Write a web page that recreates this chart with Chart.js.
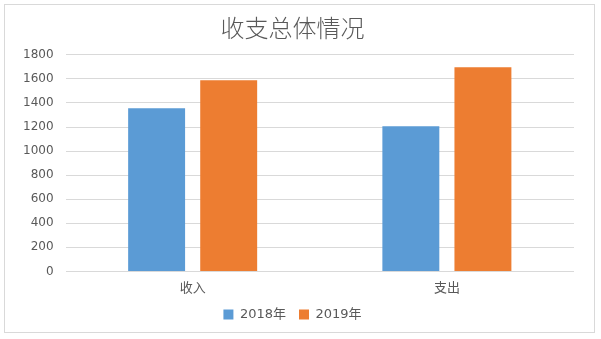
<!DOCTYPE html>
<html>
<head>
<meta charset="utf-8">
<script src="https://cdn.jsdelivr.net/npm/chart.js@4/dist/chart.umd.min.js"></script>
<style>
  html, body { margin: 0; padding: 0; background: #fff; }
  #wrap { position: absolute; left: 0; top: 0; width: 601px; height: 339px; }
</style>
</head>
<body>
<div id="wrap"><canvas id="chart" width="601" height="339"></canvas></div>
<script>
'use strict';

const categories = ['收入', '支出'];
const seriesNames = ['2018年', '2019年'];
const values2018 = [1356, 1206];
const values2019 = [1588, 1696];
const yTicks = [0, 200, 400, 600, 800, 1000, 1200, 1400, 1600, 1800];

const textColor = '#595959';
const gridColor = '#d9d9d9';

// white background plus the thin grey frame around the whole chart
const framePlugin = {
  id: 'frame',
  beforeDraw(chart) {
    const ctx = chart.ctx;
    ctx.save();
    ctx.fillStyle = '#ffffff';
    ctx.fillRect(0, 0, chart.width, chart.height);
    ctx.strokeStyle = '#d9d9d9';
    ctx.lineWidth = 1;
    ctx.strokeRect(4.5, 4.5, 590, 328);
    ctx.restore();
  },
};

const chartData = {
  labels: categories,
  datasets: [
    {
      label: seriesNames[0],
      data: values2018,
      backgroundColor: '#5b9bd5',
      barPercentage: 0.79,
      categoryPercentage: 0.567,
    },
    {
      label: seriesNames[1],
      data: values2019,
      backgroundColor: '#ed7d31',
      barPercentage: 0.79,
      categoryPercentage: 0.567,
    },
  ],
};

const options = {
  responsive: false,
  animation: false,
  layout: {
    padding: { left: 11, right: 27, top: 8, bottom: 8 },
  },
  scales: {
    y: {
      min: 0,
      max: yTicks[yTicks.length - 1],
      border: { display: false },
      grid: { color: gridColor, lineWidth: 1, drawTicks: false },
      afterBuildTicks(scale) {
        scale.ticks = yTicks.map((v) => ({ value: v }));
      },
      ticks: {
        color: textColor,
        padding: 12,
        font: { family: '"DejaVu Sans"', size: 12 },
        callback: (value) => String(value),
      },
    },
    x: {
      border: { display: false },
      grid: { display: false },
      ticks: {
        color: textColor,
        padding: 0,
        font: { family: '"Noto Sans CJK SC"', size: 13 },
      },
    },
  },
  plugins: {
    title: {
      display: true,
      text: '收支总体情况',
      color: textColor,
      font: { family: '"Noto Sans CJK SC"', size: 24, weight: '300' },
      padding: { top: 5, bottom: 13 },
    },
    legend: {
      display: true,
      position: 'bottom',
      labels: {
        color: textColor,
        boxWidth: 10,
        boxHeight: 10,
        padding: 13,
        font: { family: '"DejaVu Sans", "Noto Sans CJK SC"', size: 13 },
      },
    },
    tooltip: { enabled: false },
  },
};

const ctx = document.getElementById('chart');
new Chart(ctx, {
  type: 'bar',
  data: chartData,
  options: options,
  plugins: [framePlugin],
});
</script>
</body>
</html>
